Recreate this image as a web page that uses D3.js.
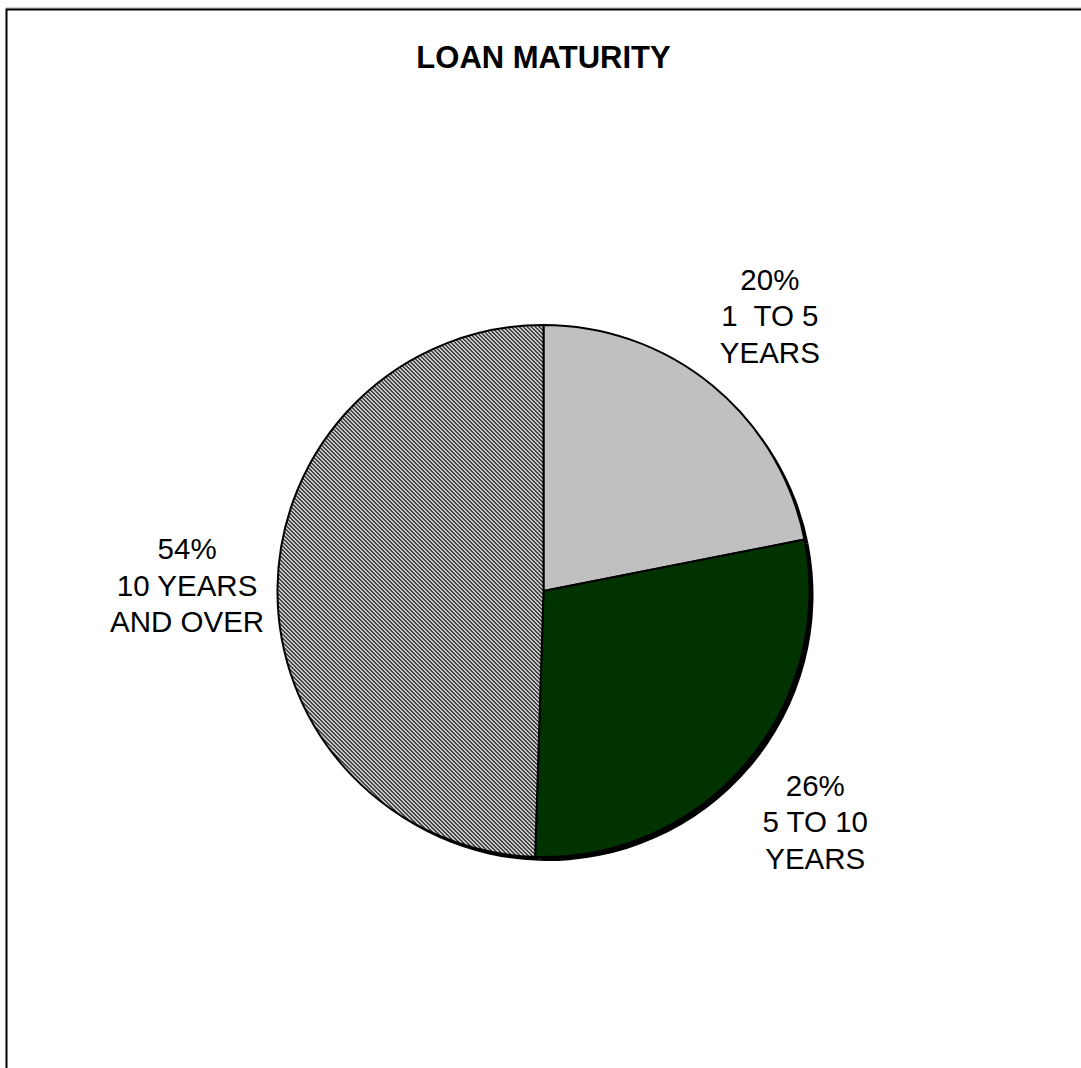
<!DOCTYPE html>
<html>
<head>
<meta charset="utf-8">
<script src="https://cdn.jsdelivr.net/npm/d3@7"></script>
<style>
  body { margin: 0; overflow: hidden; background: #fff; }
  text { font-family: "Liberation Sans", Arial, sans-serif; white-space: pre; }
</style>
</head>
<body>
<div id="chart"></div>
<script>
// loan maturity pie

const title = "LOAN MATURITY";
const shares = [21.9, 28.6, 49.5];          // slice sizes as drawn
const pctLabels = ["20%", "26%", "54%"];     // labels as printed
const categoryLines = [["1  TO 5", "YEARS"], ["5 TO 10", "YEARS"], ["10 YEARS", "AND OVER"]];
const fills = ["#c0c0c0", "#003300", "url(#hatch)"];

const W = 1081, H = 1068;
const cx = 543.5, cy = 591, r = 266;

const svg = d3.select("#chart").append("svg")
  .attr("width", W)
  .attr("height", H);

const defs = svg.append("defs");
const pat = defs.append("pattern")
  .attr("id", "hatch")
  .attr("patternUnits", "userSpaceOnUse")
  .attr("width", 4)
  .attr("height", 4);
pat.append("rect").attr("width", 4).attr("height", 4).attr("fill", "#fff");
pat.append("path")
  .attr("d", "M-1,-1L5,5M-1,3L1,5M3,-1L5,1")
  .attr("stroke", "#000")
  .attr("stroke-width", 1.3);

// frame
svg.append("line")
  .attr("x1", 6).attr("x2", W).attr("y1", 8).attr("y2", 8)
  .attr("stroke", "#a0a0a0").attr("stroke-width", 1);
svg.append("rect")
  .attr("x", 6.5).attr("y", 9.5)
  .attr("width", W + 20).attr("height", H + 20)
  .attr("fill", "none").attr("stroke", "#000").attr("stroke-width", 2);

svg.append("text")
  .attr("x", cx).attr("y", 68)
  .attr("text-anchor", "middle")
  .attr("font-size", 31)
  .attr("font-weight", "bold")
  .text(title);

const pie = d3.pie().sort(null).value(d => d);
const arcs = pie(shares);
const arc = d3.arc().innerRadius(0).outerRadius(r);

// shadow
svg.append("g")
  .attr("transform", `translate(${cx + 4}, ${cy + 4})`)
  .selectAll("path")
  .data(arcs)
  .enter()
  .append("path")
  .attr("d", arc)
  .attr("fill", "#000");

const chart = svg.append("g")
  .attr("transform", `translate(${cx}, ${cy})`);

chart.selectAll("path.slice")
  .data(arcs)
  .enter()
  .append("path")
  .attr("class", "slice")
  .attr("d", arc)
  .attr("fill", (d, i) => fills[i])
  .attr("stroke", "#000")
  .attr("stroke-width", 2)
  .attr("stroke-linejoin", "round");

// labels
const labelR = r * 1.34;
const lineH = 36.5;
arcs.forEach((d, i) => {
  const a = (d.startAngle + d.endAngle) / 2;
  const lx = Math.sin(a) * labelR;
  const ly = -Math.cos(a) * labelR;
  const lines = [pctLabels[i]].concat(categoryLines[i]);
  const t = chart.append("text")
    .attr("text-anchor", "middle")
    .attr("font-size", 29.5);
  lines.forEach((s, j) => {
    t.append("tspan")
      .attr("x", lx)
      .attr("y", ly + (j - 1) * lineH + 10.5)
      .text(s);
  });
});
</script>
</body>
</html>
